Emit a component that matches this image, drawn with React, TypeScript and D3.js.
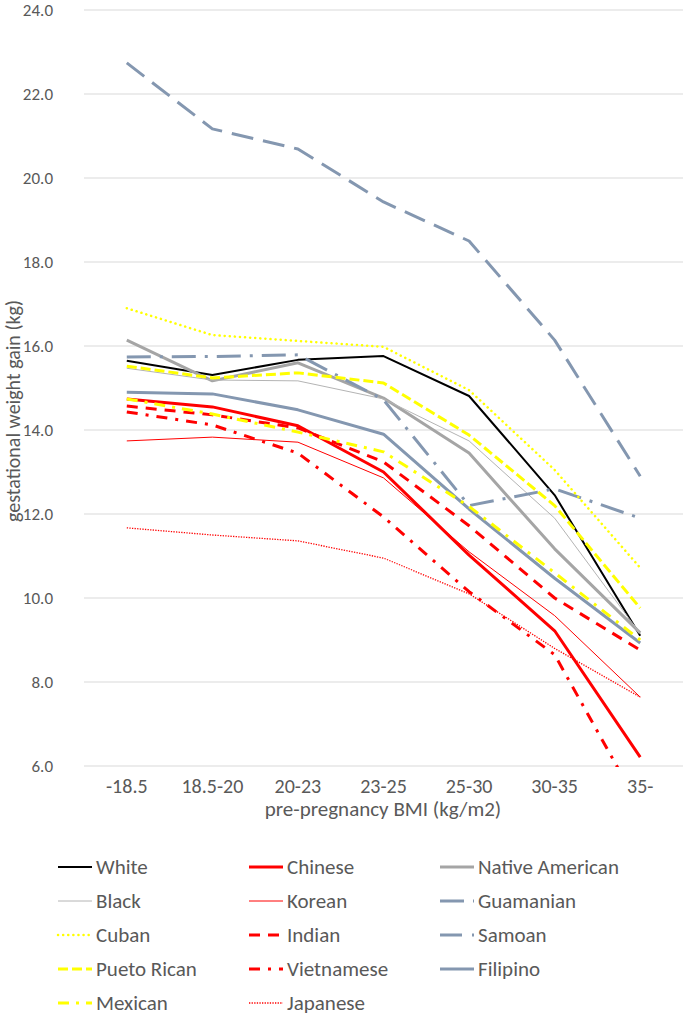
import * as d3 from "d3";
import { useEffect, useRef } from "react";

// BMI groups along the x axis
const categories = ["-18.5", "18.5-20", "20-23", "23-25", "25-30", "30-35", "35-"];
const yTicks = [6, 8, 10, 12, 14, 16, 18, 20, 22, 24];

// gestational weight gain (kg) per group
const white = [15.65, 15.31, 15.67, 15.76, 14.81, 12.45, 9.1];
const chinese = [14.74, 14.55, 14.1, 13.0, 11.02, 9.22, 6.21];
const nativeAmerican = [16.14, 15.17, 15.6, 14.76, 13.45, 11.17, 9.17];
const black = [15.47, 15.19, 15.17, 14.74, 13.74, 11.9, 9.15];
const korean = [13.74, 13.83, 13.71, 12.86, 11.1, 9.58, 7.64];
const guamanian = [15.74, 15.75, 15.79, 14.72, 12.2, 12.6, 11.9];
const cuban = [16.9, 16.26, 16.12, 15.98, 14.95, 13.05, 10.72];
const indian = [14.57, 14.36, 14.05, 13.24, 11.72, 10.0, 8.76];
const samoan = [22.74, 21.17, 20.69, 19.43, 18.5, 16.14, 12.9];
const puetoRican = [15.52, 15.24, 15.36, 15.12, 13.88, 12.2, 9.76];
const vietnamese = [14.43, 14.12, 13.45, 11.93, 10.15, 8.65, 5.0];
const filipino = [14.9, 14.86, 14.48, 13.9, 12.12, 10.47, 8.93];
const mexican = [14.74, 14.38, 13.95, 13.48, 12.18, 10.6, 9.0];
const japanese = [11.67, 11.5, 11.36, 10.95, 10.1, 8.8, 7.64];

type Series = {
    name: string;
    values: number[];
    color: string;
    width: number;
    dash?: string;
    cap?: string;
};

const RED = "#ff0000";
const YELLOW = "#ffff00";
const SLATE = "#8497b0";
const GRAY = "#a5a5a5";

// legend order (row by row, three columns)
const series: Series[] = [
    { name: "White", values: white, color: "#000000", width: 2 },
    { name: "Chinese", values: chinese, color: RED, width: 3 },
    { name: "Native  American", values: nativeAmerican, color: GRAY, width: 3 },
    { name: "Black", values: black, color: "#b4b4b4", width: 1 },
    { name: "Korean", values: korean, color: RED, width: 1 },
    { name: "Guamanian", values: guamanian, color: SLATE, width: 3, dash: "24,9,3,9" },
    { name: "Cuban", values: cuban, color: YELLOW, width: 2.5, dash: "0.1,5", cap: "round" },
    { name: "Indian", values: indian, color: RED, width: 3, dash: "11,8" },
    { name: "Samoan", values: samoan, color: SLATE, width: 3, dash: "22,10" },
    { name: "Pueto Rican", values: puetoRican, color: YELLOW, width: 3, dash: "10,4" },
    { name: "Vietnamese", values: vietnamese, color: RED, width: 3, dash: "11,8,3,8" },
    { name: "Filipino", values: filipino, color: SLATE, width: 3 },
    { name: "Mexican", values: mexican, color: YELLOW, width: 3, dash: "11,7,3,7" },
    { name: "Japanese", values: japanese, color: RED, width: 1.3, dash: "1.3,1.3" },
];

const FONT = "Carlito, Calibri, Lato, sans-serif";
const TEXT = "#595959";

export default function App() {
    const svgRef = useRef<SVGSVGElement | null>(null);

    const width = 685;
    const height = 1015;
    const margin = { top: 10, right: 2, left: 84 };
    const plotBottom = 766;

    useEffect(() => {
        if (!svgRef.current) return;
        const svg = d3.select(svgRef.current);
        svg.selectAll("*").remove();

        const x = d3
            .scalePoint<string>()
            .domain(categories)
            .range([margin.left, width - margin.right])
            .padding(0.5);
        const y = d3.scaleLinear().domain([6, 24]).range([plotBottom, margin.top]);

        // gridlines + y labels
        const yAxis = svg.append("g");
        yAxis
            .selectAll("line")
            .data(yTicks)
            .join("line")
            .attr("x1", margin.left)
            .attr("x2", width - margin.right)
            .attr("y1", d => y(d))
            .attr("y2", d => y(d))
            .attr("stroke", "#d9d9d9")
            .attr("stroke-width", 1);
        yAxis
            .selectAll("text")
            .data(yTicks)
            .join("text")
            .attr("x", 53)
            .attr("y", d => y(d))
            .attr("dy", "0.35em")
            .attr("text-anchor", "end")
            .style("font-family", FONT)
            .style("font-size", "17px")
            .attr("fill", TEXT)
            .text(d => d.toFixed(1));

        svg.append("text")
            .attr("transform", `translate(13,411) rotate(-90)`)
            .attr("text-anchor", "middle")
            .attr("dy", "0.35em")
            .style("font-family", FONT)
            .style("font-size", "20px")
            .attr("fill", TEXT)
            .text("gestational weight gain (kg)");

        // x labels
        svg.append("g")
            .selectAll("text")
            .data(categories)
            .join("text")
            .attr("x", d => x(d) as number)
            .attr("y", plotBottom + 20)
            .attr("dy", "0.35em")
            .attr("text-anchor", "middle")
            .style("font-family", FONT)
            .style("font-size", "20px")
            .attr("fill", TEXT)
            .text(d => d);

        svg.append("text")
            .attr("x", 383)
            .attr("y", plotBottom + 43)
            .attr("dy", "0.35em")
            .attr("text-anchor", "middle")
            .style("font-family", FONT)
            .style("font-size", "21px")
            .attr("fill", TEXT)
            .text("pre-pregnancy BMI (kg/m2)");

        svg.append("clipPath")
            .attr("id", "plot-clip")
            .append("rect")
            .attr("x", margin.left)
            .attr("y", 0)
            .attr("width", width - margin.left)
            .attr("height", plotBottom + 1);

        const line = d3
            .line<number>()
            .x((d, i) => x(categories[i]) as number)
            .y(d => y(d));

        svg.append("g")
            .attr("clip-path", "url(#plot-clip)")
            .selectAll("path")
            .data(series)
            .join("path")
            .attr("d", d => line(d.values))
            .attr("fill", "none")
            .attr("stroke", d => d.color)
            .attr("stroke-width", d => d.width)
            .attr("stroke-dasharray", d => d.dash ?? null)
            .attr("stroke-linecap", d => d.cap ?? "butt")
            .attr("stroke-linejoin", "round");

        // legend
        const colX = d3.scaleOrdinal<number, number>().domain([0, 1, 2]).range([58, 249, 440]);
        const rowY = d3.scaleLinear().domain([0, 4]).range([867, 1003]);
        const items = svg
            .append("g")
            .selectAll("g")
            .data(series)
            .join("g")
            .attr("transform", (d, i) => `translate(${colX(i % 3)},${rowY(Math.floor(i / 3))})`);
        items
            .append("line")
            .attr("x1", 0)
            .attr("x2", 34)
            .attr("stroke", d => d.color)
            .attr("stroke-width", d => d.width)
            .attr("stroke-dasharray", d => d.dash ?? null)
            .attr("stroke-linecap", d => d.cap ?? "butt");
        items
            .append("text")
            .attr("x", 38)
            .attr("dy", "0.35em")
            .style("font-family", FONT)
            .style("font-size", "21px")
            .attr("fill", TEXT)
            .text(d => d.name);
    }, []);

    return (
        <div style={{ position: "absolute", left: 0, top: 0, background: "#fff" }}>
            <svg ref={svgRef} width={width} height={height} style={{ display: "block" }} />
        </div>
    );
}
